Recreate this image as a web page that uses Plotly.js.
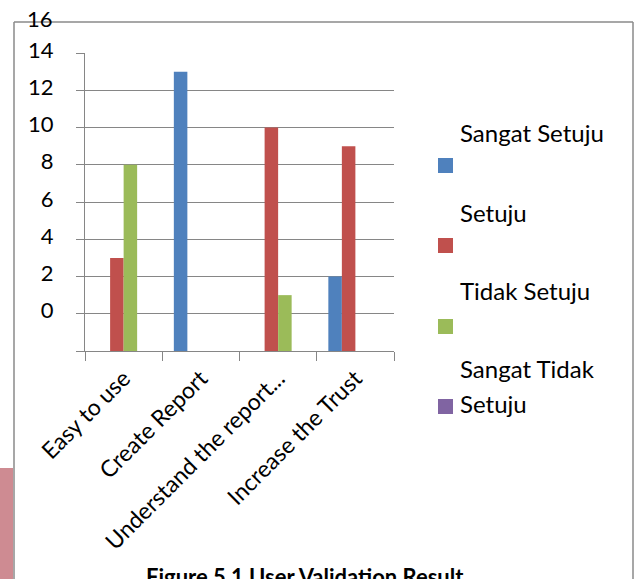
<!DOCTYPE html>
<html>
<head>
<meta charset="utf-8">
<script src="https://cdn.plot.ly/plotly-3.0.1.min.js"></script>
<style>html,body{margin:0;padding:0;background:#fff;}#chart{width:637px;height:579px;}</style>
</head>
<body>
<div id="chart"></div>
<script>
// ---- data ----
const categories = ["Easy to use", "Create Report", "Understand the report...", "Increase the Trust"];
const seriesNames = ["Sangat Setuju", "Setuju", "Tidak Setuju", "Sangat Tidak Setuju"];
const sangatSetuju = [0, 15, 0, 4];
const setuju = [5, 0, 12, 11];
const tidakSetuju = [10, 0, 3, 0];
const sangatTidakSetuju = [0, 0, 0, 0];
const yTickLabels = ["0", "2", "4", "6", "8", "10", "12", "14", "16"];
const caption = "Figure 5.1 User Validation Result";

// ---- styling / layout ----
const colors = ["#4F81BD", "#C0504D", "#9BBB59", "#8064A2"];
const W = 637, H = 579;
const PL = 85, PR = 394, PT = 53, PB = 351;
const px = x => (x - PL) / (PR - PL);
const py = y => (PB - y) / (PB - PT);
const FONT = "Lato, 'Liberation Sans', sans-serif";
const GRID = "#868686";
const BORDER = "#8a8a8a";

const seriesValues = [sangatSetuju, setuju, tidakSetuju, sangatTidakSetuju];
const traces = seriesValues.map((vals, i) => ({
  type: "bar",
  name: seriesNames[i],
  x: categories,
  y: vals,
  marker: { color: colors[i], line: { width: 0 } },
  showlegend: false,
  hoverinfo: "x+y+name"
}));

// y axis: labels drawn one grid step above where the values sit (as in the source image)
const step = 2;
const yMax = (yTickLabels.length - 1) * step;
const tickVals = [0];
const tickText = [""];
for (let i = 0; i < yTickLabels.length - 1; i++) {
  tickVals.push((i + 1) * step);
  tickText.push(yTickLabels[i]);
}
const topLabelPos = yTickLabels.length * step;

const annotations = [];
const shapes = [];

// top tick label that sits above the plot area
annotations.push({
  xref: "paper", yref: "paper", x: px(55), y: topLabelPos / yMax, yshift: -3,
  xanchor: "right", yanchor: "middle", showarrow: false,
  text: yTickLabels[yTickLabels.length - 1],
  font: { family: FONT, size: 22, color: "#000" }
});

// custom legend: text above each marker
const LEG = 24;
const legendTextY = [132, 212, 290];
const legendMarkY = [158, 238, 319, 399];
for (let i = 0; i < 3; i++) {
  annotations.push({
    xref: "paper", yref: "paper", x: px(458), y: py(legendTextY[i]),
    xanchor: "left", yanchor: "middle", showarrow: false,
    text: seriesNames[i], font: { family: FONT, size: LEG, color: "#000" }
  });
}
const lastWords = seriesNames[3].split(" ");
annotations.push({
  xref: "paper", yref: "paper", x: px(458), y: py(368),
  xanchor: "left", yanchor: "middle", showarrow: false,
  text: lastWords.slice(0, 2).join(" "), font: { family: FONT, size: LEG, color: "#000" }
});
annotations.push({
  xref: "paper", yref: "paper", x: px(458), y: py(403),
  xanchor: "left", yanchor: "middle", showarrow: false,
  text: lastWords.slice(2).join(" "), font: { family: FONT, size: LEG, color: "#000" }
});
for (let i = 0; i < 4; i++) {
  shapes.push({
    type: "rect", xref: "paper", yref: "paper",
    x0: px(438), x1: px(453), y0: py(legendMarkY[i]), y1: py(legendMarkY[i] + 15),
    fillcolor: colors[i], line: { width: 0 }
  });
}

// caption
annotations.push({
  xref: "paper", yref: "paper", x: px(305), y: py(576),
  xanchor: "center", yanchor: "middle", showarrow: false,
  text: "<b>" + caption + "</b>", font: { family: FONT, size: 22, color: "#000" }
});

// chart border (left, top, right)
[[14, 22, 14, 579], [14, 22, 633, 22], [633, 22, 633, 579]].forEach(s => {
  shapes.push({
    type: "line", xref: "paper", yref: "paper",
    x0: px(s[0]), y0: py(s[1]), x1: px(s[2]), y1: py(s[3]),
    line: { color: BORDER, width: 1.5 }
  });
});
// faint pink watermark at lower left
shapes.push({
  type: "rect", xref: "paper", yref: "paper",
  x0: px(0), x1: px(13), y0: py(468), y1: py(579),
  fillcolor: "rgba(190,100,110,0.75)", line: { width: 0 }, layer: "below"
});

const layout = {
  width: W, height: H,
  margin: { l: PL, r: W - PR, t: PT, b: H - PB, pad: 0 },
  paper_bgcolor: "#fff", plot_bgcolor: "#fff",
  font: { family: FONT, size: 22, color: "#000" },
  barmode: "group", bargap: 0.3, bargroupgap: 0,
  showlegend: false,
  xaxis: {
    type: "category",
    tickson: "boundaries",
    ticks: "outside", ticklen: 9, tickcolor: GRID, tickwidth: 1,
    showline: true, linecolor: GRID, linewidth: 1,
    showgrid: false, zeroline: false,
    tickangle: -45,
    ticklabelstandoff: 4,
    tickfont: { family: FONT, size: 23, color: "#000" }
  },
  yaxis: {
    range: [0, yMax],
    tickmode: "array", tickvals: tickVals, ticktext: tickText,
    ticks: "outside", ticklen: 8, tickcolor: GRID, tickwidth: 1,
    showline: true, linecolor: GRID, linewidth: 1,
    showgrid: true, gridcolor: GRID, gridwidth: 1,
    zeroline: false,
    ticklabelstandoff: 18,
    ticklabelshift: -3,
    tickfont: { family: FONT, size: 22, color: "#000" }
  },
  annotations: annotations,
  shapes: shapes
};

Plotly.newPlot("chart", traces, layout, { staticPlot: true, displayModeBar: false });
</script>
</body>
</html>
